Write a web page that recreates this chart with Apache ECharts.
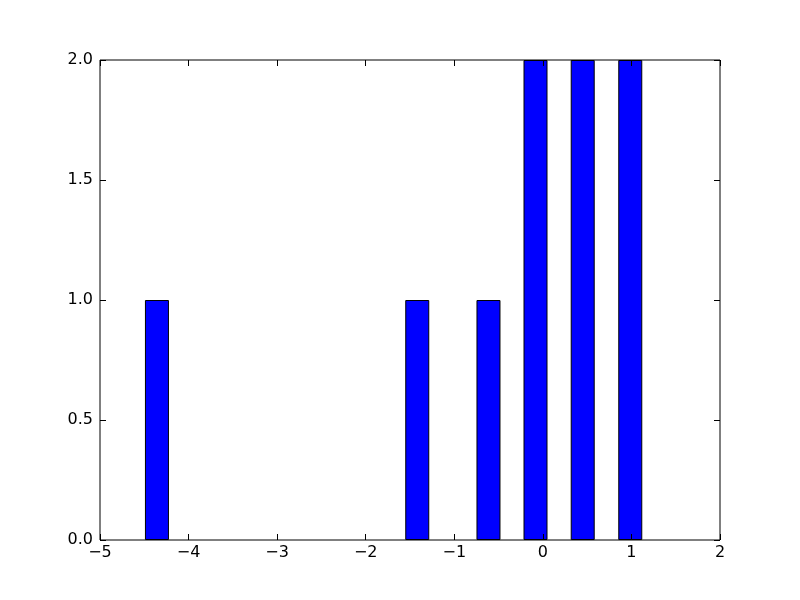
<!DOCTYPE html>
<html>
<head>
<meta charset="utf-8">
<script src="https://cdn.jsdelivr.net/npm/echarts@6/dist/echarts.min.js"></script>
<style>html,body{margin:0;padding:0;background:#fff}#c{width:800px;height:600px}</style>
</head>
<body>
<div id="c"></div>
<script>
const barCenters = [-4.357, -1.418, -0.614, -0.083, 0.450, 0.987];
const barHeights = [1, 1, 1, 2, 2, 2];
const xTicks = [-5, -4, -3, -2, -1, 0, 1, 2];
const yTicks = [0.0, 0.5, 1.0, 1.5, 2.0];

const chart = echarts.init(document.getElementById('c'), null, {renderer: 'canvas'});
const font = {fontFamily: 'DejaVu Sans', fontSize: 16, color: '#000'};
const tick = {show: true, inside: true, length: 6, lineStyle: {color: '#000', width: 1}};
const noLine = {show: false, onZero: false};
const fmtX = v => String(v).replace('-', '\u2212');
const fmtY = v => Number(v).toFixed(1);
chart.setOption({
  animation: false,
  backgroundColor: '#fff',
  grid: {left: 100, right: 80, top: 60, bottom: 60, show: true, borderColor: '#000', borderWidth: 1, backgroundColor: 'transparent', z: 10},
  xAxis: [
    {type: 'value', min: xTicks[0], max: xTicks[xTicks.length-1], interval: 1, position: 'bottom', z: 10,
     axisLine: noLine, axisTick: tick, splitLine: {show: false},
     axisLabel: Object.assign({margin: 5, formatter: fmtX}, font)},
    {type: 'value', min: xTicks[0], max: xTicks[xTicks.length-1], interval: 1, position: 'top', z: 10,
     axisLine: noLine, axisTick: tick, splitLine: {show: false}, axisLabel: {show: false}}
  ],
  yAxis: [
    {type: 'value', min: yTicks[0], max: yTicks[yTicks.length-1], interval: 0.5, position: 'left', z: 10,
     axisLine: noLine, axisTick: tick, splitLine: {show: false},
     axisLabel: Object.assign({margin: 7, formatter: fmtY}, font)},
    {type: 'value', min: yTicks[0], max: yTicks[yTicks.length-1], interval: 0.5, position: 'right', z: 10,
     axisLine: noLine, axisTick: tick, splitLine: {show: false}, axisLabel: {show: false}}
  ],
  series: [{
    type: 'bar',
    xAxisIndex: 0, yAxisIndex: 0,
    barWidth: 24,
    data: barCenters.map((x, i) => [x, barHeights[i]]),
    itemStyle: {color: '#0000ff', borderColor: '#000', borderWidth: 1},
    z: 1
  }]
});
</script>
</body>
</html>
